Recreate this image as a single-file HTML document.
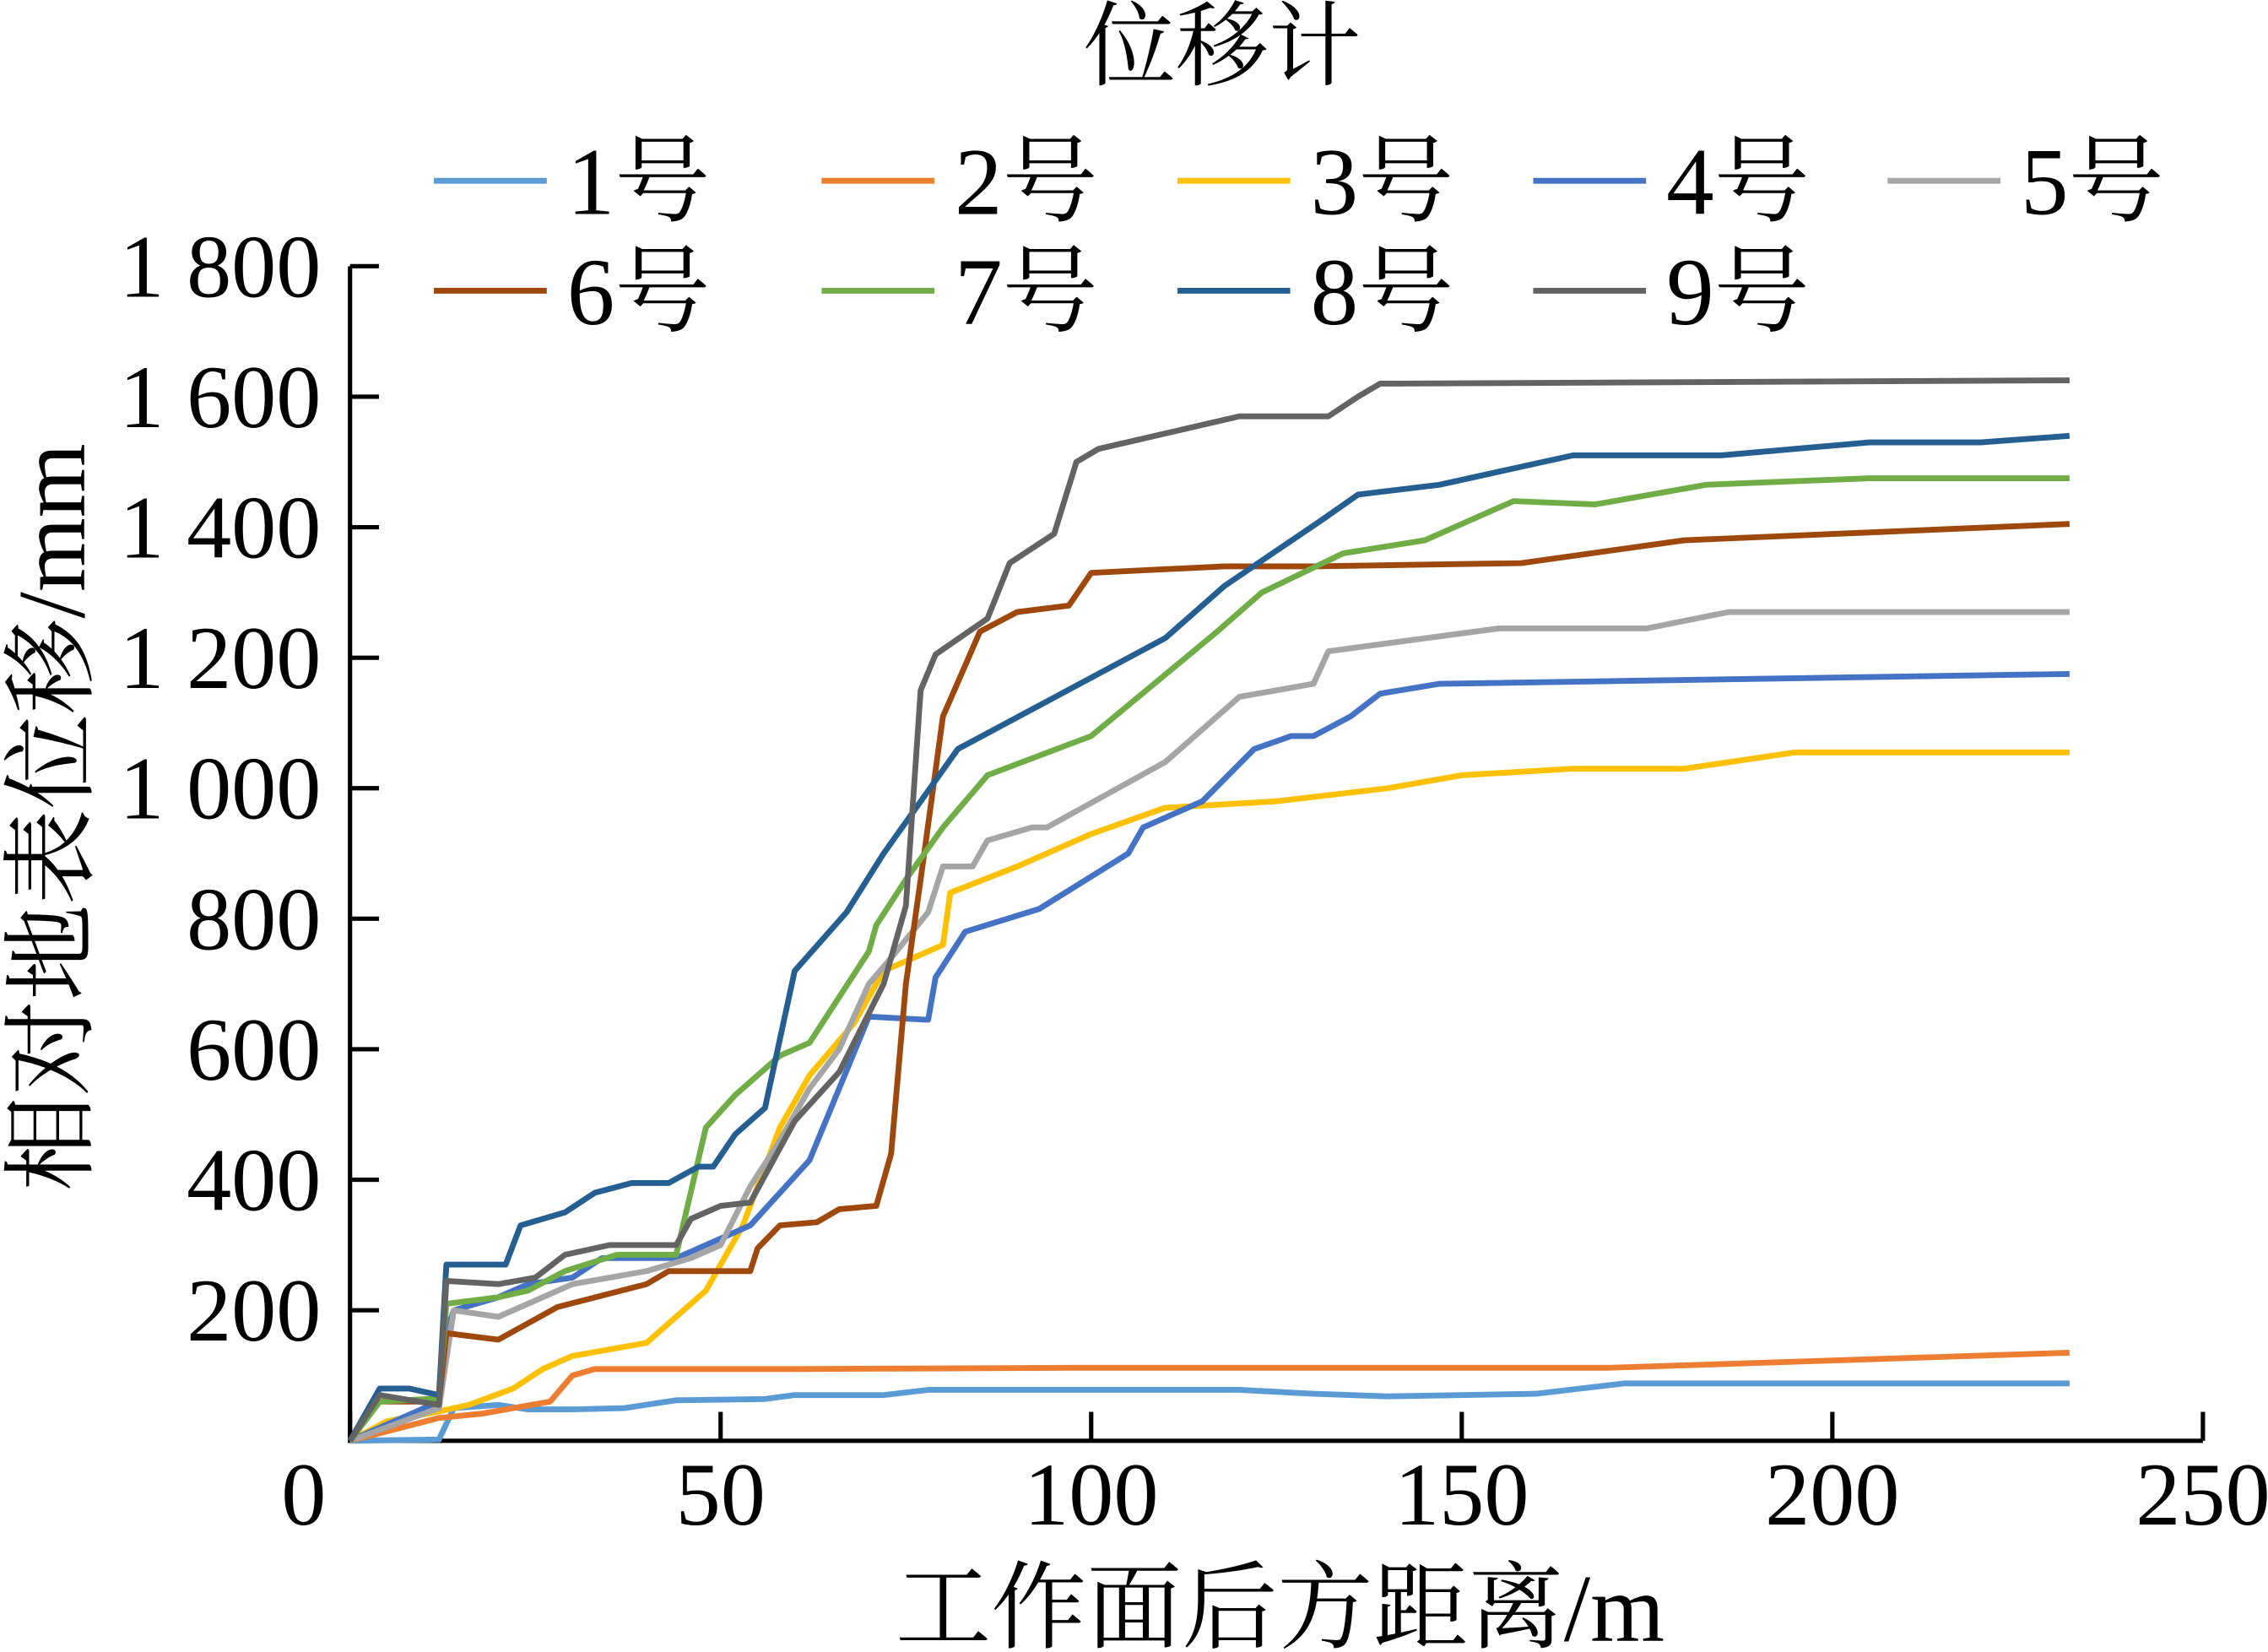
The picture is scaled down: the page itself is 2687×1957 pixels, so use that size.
<!DOCTYPE html>
<html><head><meta charset="utf-8"><style>
html,body{margin:0;padding:0;background:#fff}
svg{display:block}
text{font-family:"Liberation Serif","Noto Serif CJK SC",serif;fill:#000}
</style></head><body>
<svg id="chart" width="2687" height="1957" viewBox="0 0 1568 1142" xmlns="http://www.w3.org/2000/svg">
<g id="axes"></g>
<g id="series"></g>
<g id="legend"></g>
<text x="845" y="54" font-size="64" text-anchor="middle">位移计</text>
<text x="885" y="1134" font-size="66" text-anchor="middle">工作面后方距离/m</text>
<text transform="translate(58,565) rotate(-90)" font-size="66" text-anchor="middle">相对地表位移/mm</text>
</svg>
<script>
const xTicks=[0,50,100,150,200,250];
const yTicks=[200,400,600,800,1000,1200,1400,1600,1800];
const yTickLabels=["200","400","600","800","1 000","1 200","1 400","1 600","1 800"];
const seriesNames=["1号","2号","3号","4号","5号","6号","7号","8号","9号"];
const seriesColors=["#5b9bd5","#ed7d31","#ffc000","#4472c4","#a5a5a5","#9e480e","#70ad47","#255e91","#636363"];
const s1x=[0,12,14,20,24,30,37,44,56,60,72,78,120,130,140,160,172,232];
const s1y=[0,2,50,55,48,48,50,62,64,70,70,78,78,72,68,72,88,88];
const s2x=[0,12,18,22,27,30,33,60,100,170,232];
const s2y=[0,35,42,50,60,100,110,110,112,112,135];
const s3x=[0,5,12,16,22,26,30,40,43,48,53,58,62,68,72,80,81,90,100,110,125,140,150,165,180,195,232];
const s3y=[0,30,45,55,80,110,130,150,180,230,330,480,560,640,720,760,840,880,930,970,980,1000,1020,1030,1030,1055,1055];
const s4x=[0,12,12.5,14,20,24,30,34,44,50,54,58,62,66,70,78,79,83,93,105,107,115,122,127,130,135,139,147,232];
const s4y=[0,60,150,200,220,240,250,280,280,310,330,380,430,540,650,645,710,780,815,900,940,980,1060,1080,1080,1110,1145,1160,1175];
const s5x=[0,12,14,20,26,30,40,46,50,54,58,62,66,70,73,78,80,84,86,92,94,110,120,130,132,155,175,186,232];
const s5y=[0,50,200,190,220,240,260,280,300,390,460,540,600,700,740,810,880,880,920,940,940,1040,1140,1160,1210,1245,1245,1270,1270];
const s6x=[0,4,12,13,20,28,40,43,54,55,58,63,66,71,73,75,77,80,85,90,97,100,118,130,158,180,232];
const s6y=[0,60,60,165,155,205,240,260,260,295,330,335,355,360,440,700,860,1110,1240,1270,1280,1330,1340,1340,1345,1380,1405];
const s7x=[0,4,12,13,20,24,29,36,44,48,52,58,62,70,71,75,80,86,100,117,123,134,145,157,168,183,205,232];
const s7y=[0,60,65,210,220,230,260,285,285,480,530,590,610,750,790,860,940,1020,1080,1240,1300,1360,1380,1440,1435,1465,1475,1475];
const s8x=[0,4,8,12,13,21,23,29,33,38,43,47,49,52,56,60,67,72,82,110,118,131,136,147,165,185,205,220,232];
const s8y=[0,80,80,70,270,270,330,350,380,395,395,420,420,470,510,720,810,900,1060,1230,1310,1410,1450,1465,1510,1510,1530,1530,1540];
const s9x=[0,4,12,13,20,25,29,35,44,46,50,54,60,66,72,75,77,79,86,89,95,98,101,120,132,136,139,232];
const s9y=[0,70,55,245,240,250,285,300,300,340,360,365,490,565,700,820,1150,1205,1260,1345,1390,1500,1520,1570,1570,1600,1620,1625];
const allX=[s1x,s2x,s3x,s4x,s5x,s6x,s7x,s8x,s9x];
const allY=[s1y,s2y,s3y,s4y,s5y,s6y,s7y,s8y,s9y];

const NS="http://www.w3.org/2000/svg";
const X0=242,X1=1523,Y0=996,Y1=184;
const sx=v=>X0+(v-0)/250*(X1-X0);
const sy=v=>Y0-(v-0)/1800*(Y0-Y1);
function mk(tag,attrs,parent){const e=document.createElementNS(NS,tag);for(const k in attrs)e.setAttribute(k,attrs[k]);parent.appendChild(e);return e;}
const axes=document.getElementById('axes');
let ax=mk('line',{x1:X0,y1:Y0,x2:X1,y2:Y0,stroke:'#000','stroke-width':3},axes);


let ay=mk('line',{x1:X0,y1:Y0+1.5,x2:X0,y2:Y1,stroke:'#000','stroke-width':3},axes);


xTicks.forEach(v=>{
  const t=mk('line',{x1:sx(v),y1:Y0,x2:sx(v),y2:Y0-20,stroke:'#000','stroke-width':3},axes);
  
  
  const l=mk('text',{x:sx(v)-(v===0?32:0),y:Y0+58,'font-size':62,'text-anchor':'middle'},axes);
  l.textContent=v;
  
  
});
yTicks.forEach((v,i)=>{
  const t=mk('line',{x1:X0,y1:sy(v),x2:X0+20,y2:sy(v),stroke:'#000','stroke-width':3},axes);
  
  
  const l=mk('text',{x:222,y:sy(v)+21,'font-size':62,'text-anchor':'end'},axes);
  l.textContent=yTickLabels[i];
  
  
});
const sg=document.getElementById('series');
allX.forEach((xs,i)=>{
  const pts=xs.map((x,j)=>sx(x).toFixed(1)+','+sy(allY[i][j]).toFixed(1)).join(' ');
  const p=mk('polyline',{points:pts,fill:'none',stroke:seriesColors[i],'stroke-width':4,'stroke-linejoin':'round'},sg);
  
  
});
const lg=document.getElementById('legend');
const cols=[300,568,814,1060,1305];
seriesNames.forEach((n,i)=>{
  const r=Math.floor(i/5),c=i%5;
  const x=cols[c],y=r===0?125:201;
  const ln=mk('line',{x1:x,y1:y,x2:x+78,y2:y,stroke:seriesColors[i],'stroke-width':4},lg);
  
  
  const t=mk('text',{x:x+92,y:y+23,'font-size':66},lg);
  t.textContent=n;
  
  
});
</script>
</body></html>
